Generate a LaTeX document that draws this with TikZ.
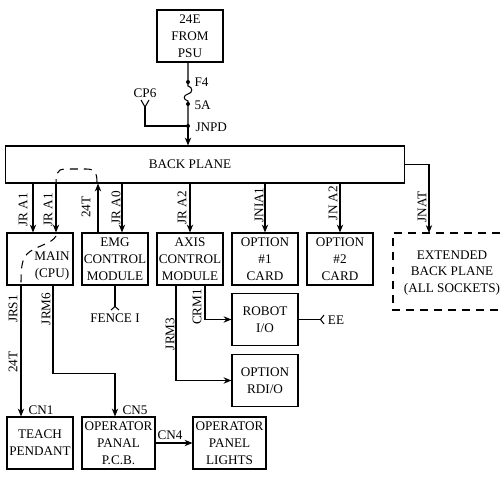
\documentclass[tikz,border=0pt]{standalone}
\usepackage{fontspec}
\setmainfont{Liberation Serif}
\usetikzlibrary{arrows.meta}
\tikzset{
  box/.style={draw, minimum width=1.32cm, minimum height=1.04cm, inner sep=0pt, align=center},
  widebox/.style={box, minimum width=1.46cm},
  lbl/.style={inner sep=0pt},
  vlbl/.style={inner sep=0pt, rotate=90},
  dashline/.style={dash pattern=on 4.5pt off 3.5pt},
}
\begin{document}
\begin{tikzpicture}[x=0.02cm,y=-0.02cm,>={Stealth[length=4.5pt,width=3.6pt]},line width=0.6pt,font=\fontsize{7.5}{9.6}\selectfont]
\useasboundingbox (0,0) rectangle (500,479);

% supply and back plane
\node[box] (psu) at (190,36) {24E\\FROM\\PSU};
\node[draw, minimum width=8cm, minimum height=0.74cm, inner sep=0pt] (bp) at (205,164.5) {};
\node[lbl] (bptxt) at (190,164) {BACK PLANE};
\coordinate (f4) at (188,82);
\coordinate (f5a) at (188,104);
\coordinate (jnpd) at (188,126);
\draw (f4 |- psu.south) -- (f4) -- (188,86) .. controls (193,87) and (193,93) .. (188,94)
      .. controls (183,95) and (183,100) .. (188,101) -- (f5a) -- (jnpd);
\draw[->] (jnpd) -- (jnpd |- bp.north);
\foreach \p in {f4,f5a,jnpd} \fill (\p) circle (2);
\node[lbl, anchor=west] (lf4) at (194,82) {F4};
\node[lbl, anchor=west] (l5a) at (194,105) {5A};
\node[lbl, anchor=west] (ljnpd) at (195,127) {JNPD};
\draw (jnpd) -| (145,107) coordinate (cp6);
\draw (141,100) -- (cp6) -- (149,100);
\node[lbl] (lcp6) at (145,93) {CP6};

% card row
\node[box] (main) at (40,259) {};
\node[lbl, align=center] (maintxt) at (52,266) {MAIN\\(CPU)};
\node[box] (emg) at (115,259) {EMG\\CONTROL\\MODULE};
\node[box] (axis) at (190,259) {AXIS\\CONTROL\\MODULE};
\node[box] (opt1) at (265,259) {OPTION\\\#1\\CARD};
\node[box] (opt2) at (340,259) {OPTION\\\#2\\CARD};
\draw[dashline] (500,233) -- (393,233) -- (393,310) -- (500,310);
\coordinate (exttop) at (429,233);
\node[lbl, align=center] (ext) at (452,273) {EXTENDED\\BACK PLANE\\(ALL SOCKETS)};

\draw[->] ([xshift=-0.14cm]main.north |- bp.south) -- ([xshift=-0.14cm]main.north);
\draw[->] ([xshift=0.32cm]main.north |- bp.south) -- ([xshift=0.32cm]main.north);
\draw[->] ([xshift=-0.34cm]emg.north) -- ([xshift=-0.34cm]emg.north |- bp.south);
\draw[->] ([xshift=0.14cm]emg.north |- bp.south) -- ([xshift=0.14cm]emg.north);
\draw[->] (axis.north |- bp.south) -- (axis.north);
\draw[->] (opt1.north |- bp.south) -- (opt1.north);
\draw[->] (opt2.north |- bp.south) -- (opt2.north);
\draw[->] (bp.east) -| (exttop);
\node[vlbl] (ljra1) at (23,210) {JR A1};
\node[vlbl] (ljra1b) at (48,210) {JR A1};
\node[vlbl] (l24t) at (86,207) {24T};
\node[vlbl] (ljra0) at (116,208) {JR A0};
\node[vlbl] (ljra2) at (182,208) {JR A2};
\node[vlbl] (ljnia1) at (259,205) {JNIA1};
\node[vlbl] (ljna2) at (333,203) {JN A2};
\node[vlbl] (ljnat) at (422,207) {JNAT};

% 24T path through main
\draw[dashline] (97,182) .. controls (97,172) and (94,169) .. (86,169) -- (64,169)
      .. controls (58,169) and (56,174) .. (56,183) -- (56,195);
\draw[dashline] (56,236) .. controls (52,244) and (35,246) .. (27,254)
      .. controls (22,260) and (21,266) .. (21,285);

% lower part
\node[box] (robot) at (265,319.5) {ROBOT\\I/O};
\node[box] (rdio) at (265,380.5) {OPTION\\RDI/O};
\node[box] (teach) at (40,443) {TEACH\\PENDANT};
\node[widebox] (oppcb) at (118.5,443) {OPERATOR\\PANAL\\P.C.B.};
\node[widebox] (oplights) at (229.5,443) {OPERATOR\\PANEL\\LIGHTS};

\draw[->] ([xshift=-0.38cm]main.south) -- ([xshift=-0.38cm]teach.north);
\draw[->] ([xshift=0.26cm]main.south) -- ++(0,88) -| ([xshift=-0.07cm]oppcb.north);
\draw[->] (oppcb.east) -- (oplights.west);
\draw[->] ([xshift=0.3cm]axis.south) |- (robot.west);
\draw[->] ([xshift=-0.28cm]axis.south) |- (rdio.west);
\draw (robot.east) -- ++(22,0) coordinate (ee);
\draw (324,315) -- (ee) -- (324,324);
\node[lbl] (lee) at (336,320) {EE};
\draw (emg.south) -- ++(0,21) coordinate (fence);
\draw (111,310) -- (fence) -- (119,310);
\node[lbl] (lfence) at (115,318) {FENCE I};

\node[vlbl] (ljrs1) at (13,309) {JRS1};
\node[vlbl] (l24tb) at (13,362) {24T};
\node[vlbl] (ljrm6) at (46,309) {JRM6};
\node[vlbl] (lcrm1) at (197,307) {CRM1};
\node[vlbl] (ljrm3) at (170,334) {JRM3};
\node[lbl] (lcn1) at (41,410) {CN1};
\node[lbl] (lcn5) at (135,410) {CN5};
\node[lbl] (lcn4) at (170,435) {CN4};
\end{tikzpicture}
\end{document}
